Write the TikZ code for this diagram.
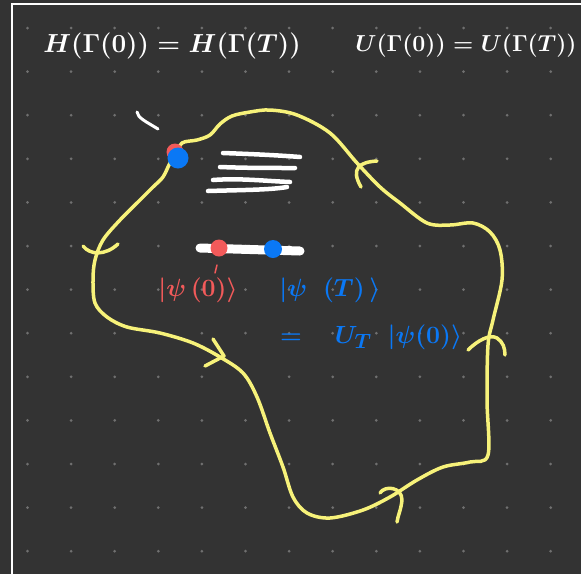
\documentclass[tikz,border=0pt]{standalone}
\usepackage{tikz}
\usepackage{xcolor}
\usetikzlibrary{positioning}
\definecolor{board}{HTML}{333333}
\definecolor{gridgray}{HTML}{707070}
\definecolor{penyellow}{HTML}{F7F27A}
\definecolor{penred}{HTML}{F25A5A}
\definecolor{penblue}{HTML}{0A78F5}
\tikzstyle{pen}     = [draw=penyellow, line width=3.5pt, line cap=round, line join=round]
\tikzstyle{chalk}   = [draw=white, line width=4.5pt, line cap=round]
\tikzstyle{head}    = [text=white, inner sep=0pt, transform shape, font=\fontsize{24.88}{30}\selectfont\boldmath]
\tikzstyle{redlbl}  = [text=penred, inner sep=0pt, font=\fontsize{24.88}{30}\selectfont\boldmath]
\tikzstyle{bluelbl} = [text=penblue, inner sep=0pt, font=\fontsize{24.88}{30}\selectfont\boldmath]
\tikzstyle{reddot}  = [circle, fill=penred, inner sep=0pt, minimum size=17pt]
\tikzstyle{bluedot} = [circle, fill=penblue, inner sep=0pt, minimum size=18pt]

\begin{document}
\begin{tikzpicture}[x=1pt, y=-1pt]
  \fill[board] (0,0) rectangle (581,574);
  \useasboundingbox (0,0) rectangle (581,574);
  % dotted paper
  \foreach \i in {0,...,12}
    \foreach \j in {0,...,12}
      \fill[gridgray] (27.5+43.6*\i, 28+43.6*\j) circle (1.5pt);
  \draw[white, line width=2pt] (12,574) -- (12,4) -- (581,4);

  % equalities on top
  \node (hamEq)  [head, scale=1.05] at (172,46) {$H(\Gamma(0)) = H(\Gamma(T))$};
  \node (unitEq) [head, scale=0.93] at (466,46) {$U(\Gamma(0)) = U(\Gamma(T))$};

  % closed loop in parameter space
  \draw[pen] plot[smooth cycle, tension=0.55] coordinates {
    (176,155) (182,143) (197,140) (210,135) (220,124) (232,116) (250,112) (270,110)
    (297,115) (330,133) (357,163) (380,187) (400,203) (427,223) (450,225)
    (473,223) (490,232) (500,250) (502,280) (493,320) (488,345) (487,400)
    (488,455) (470,462) (443,467) (417,480) (390,497) (363,510) (330,518)
    (307,513) (293,497) (283,467) (270,433) (257,397) (243,373) (220,357)
    (193,343) (160,333) (127,327) (107,317) (95,303) (93,280) (95,260)
    (103,240) (120,220) (140,200) (153,187) (163,177) (170,163)};
  % arrow hooks
  \draw[pen] (377,161) .. controls (360,162) and (350,168) .. (361,187);
  \draw[pen] (83,246) .. controls (90,255) and (105,256) .. (118,244);
  \draw[pen] (213,339) -- (224,356) -- (205,366);
  \draw[pen] (380,493) .. controls (385,485) and (402,487) .. (402,500)
             .. controls (401,510) and (398,515) .. (397,522);
  \draw[pen] (468,350) .. controls (478,340) and (490,334) .. (497,338)
             .. controls (503,342) and (505,348) .. (505,355);

  % white scribbles
  \draw[chalk, line width=3pt] (137,112) .. controls (138,118) and (145,121) .. (158,129);
  \draw[chalk] (223,153) .. controls (250,154) and (275,155) .. (300,157);
  \draw[chalk] (220,167) .. controls (245,168) and (270,168) .. (295,168);
  \draw[chalk] (213,180) .. controls (240,178) and (265,181) .. (290,182);
  \draw[chalk] (208,191) .. controls (240,190) and (270,190) .. (287,187);
  \draw[chalk, line width=9pt] (200,248) -- (300,251);

  % states
  \node (start)  [reddot]  at (175,152) {};
  \node (startT) [bluedot, minimum size=21pt] at (178,158) {};
  \node (s0)     [reddot]  at (219,248) {};
  \node (sT)     [bluedot] at (273,249) {};
  \draw[penred, line width=1.5pt, line cap=round] (217,265) -- (215,273);

  \node (psiZero) [redlbl]  at (198,290) {$|\psi\,(0)\rangle$};
  \node (psiT)    [bluelbl] at (330,290) {$|\psi\;\;(T)\,\rangle$};
  \node (evolve)  [bluelbl, anchor=west] at (280,337) {$=\quad U_T\;\;|\psi(0)\rangle$};
\end{tikzpicture}
\end{document}
